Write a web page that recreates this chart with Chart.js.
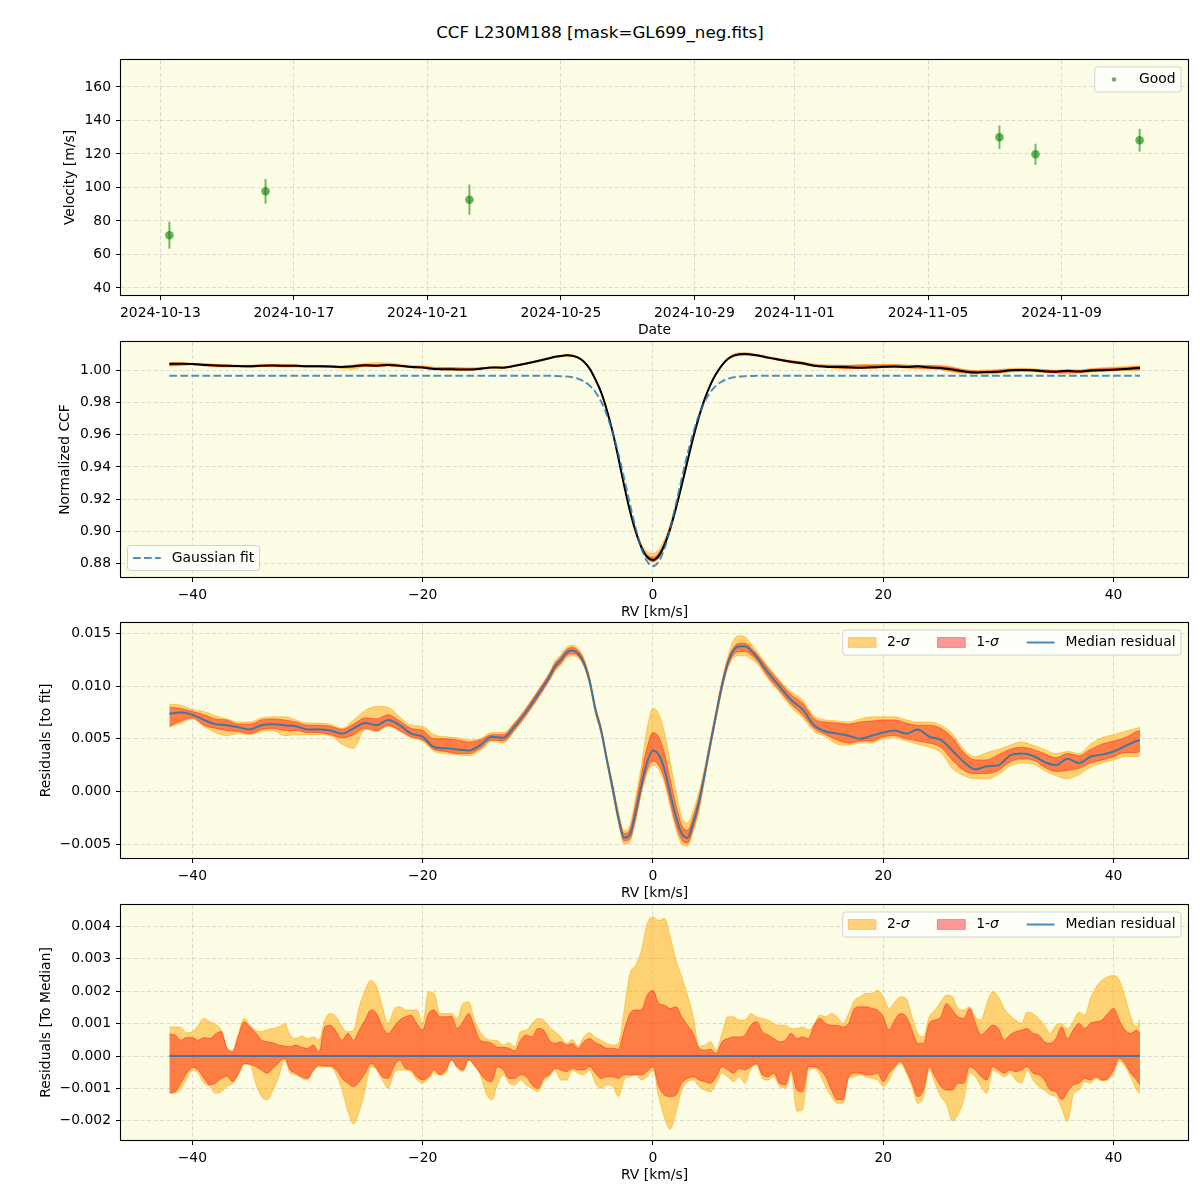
<!DOCTYPE html>
<html><head><meta charset="utf-8">
<script src="https://cdn.jsdelivr.net/npm/chart.js@4.4.1/dist/chart.umd.min.js"></script>
<style>
html,body{margin:0;padding:0;background:#fff;}
#page{position:relative;width:1200px;height:1200px;overflow:hidden;background:#fff;}
canvas{position:absolute;left:0;}
#title{position:absolute;left:0;top:21px;width:1200px;text-align:center;font-family:"DejaVu Sans",sans-serif;font-size:16.7px;line-height:22px;color:#000;}
</style></head><body>
<div id="page">
<div id="title">CCF L230M188 [mask=GL699_neg.fits]</div>
<canvas id="c1" width="1200" height="315" style="top:40px"></canvas>
<canvas id="c2" width="1200" height="315" style="top:322px"></canvas>
<canvas id="c3" width="1200" height="315" style="top:603px"></canvas>
<canvas id="c4" width="1200" height="315" style="top:885px"></canvas>
</div>
<script>
// ---------------- DATA ----------------
// Panel 1: RV time series
const obsDates = ['2024-10-13T06:29','2024-10-16T03:36','2024-10-22T06:14','2024-11-07T03:22','2024-11-08T05:17','2024-11-11T08:10'];
const obsVelocity = [71.5, 97.7, 92.7, 130.0, 119.8, 128.2];
const obsError = [8.0, 7.4, 9.0, 7.0, 6.3, 6.8];
const dateTickLabels = ['2024-10-13','2024-10-17','2024-10-21','2024-10-25','2024-10-29','2024-11-01','2024-11-05','2024-11-09'];
const velTicks = [40, 60, 80, 100, 120, 140, 160];

// Panels 2 & 3: RV grid (km/s)
const rvGrid = [-42,-41,-40,-39,-38,-37,-36,-35,-34,-33,-32,-31,-30,-29,-28,-27,-26,-25,-24,-23,-22,-21,-20,-19,-18,-17,-16,-15,-14,-13,-12,-11,-10,-9,
 -8.5,-8,-7.5,-7,-6.5,-6,-5.5,-5,-4.5,-4,-3.5,-3,-2.5,-2,-1.5,-1,-0.5,0,0.5,1,1.5,2,2.5,3,3.5,4,4.5,5,5.5,6,6.5,7,7.5,8,8.5,
 9,10,11,12,13,14,15,16,17,18,19,20,21,22,23,24,25,26,27,28,29,30,31,32,33,34,35,36,37,38,39,40,41,42,42.3];

const ccfMedian = [1.0039,1.0040,1.0038,1.0033,1.0029,1.0028,1.0026,1.0024,1.0028,1.0029,1.0028,1.0027,1.0024,1.0024,1.0023,1.0020,1.0025,1.0030,1.0028,1.0033,1.0028,1.0020,1.0017,1.0007,1.0006,1.0005,1.0004,1.0009,1.0017,1.0016,1.0027,1.0041,1.0057,1.0074,
 1.0083,1.0088,1.0093,1.0090,1.0078,1.0053,1.0010,0.9943,0.9863,0.9752,0.9616,0.9455,0.9284,0.9128,0.8999,0.8901,0.8841,0.8823,0.8848,0.8916,0.9017,0.9145,0.9288,0.9436,0.9583,0.9712,0.9822,0.9911,0.9979,1.0032,1.0069,1.0090,1.0099,1.0101,1.0098,
 1.0093,1.0078,1.0065,1.0052,1.0043,1.0028,1.0022,1.0020,1.0018,1.0015,1.0018,1.0021,1.0023,1.0020,1.0024,1.0017,1.0014,1.0004,0.9993,0.9986,0.9989,0.9990,0.9999,1.0001,0.9999,0.9993,0.9990,0.9996,0.9992,0.9998,1.0000,1.0003,1.0008,1.0013,1.0014];

const gaussFit = [0.9965,0.9965,0.9965,0.9965,0.9965,0.9965,0.9965,0.9965,0.9965,0.9965,0.9965,0.9965,0.9965,0.9965,0.9965,0.9965,0.9965,0.9965,0.9965,0.9965,0.9965,0.9965,0.9965,0.9965,0.9965,0.9965,0.9965,0.9965,0.9965,0.9965,0.9965,0.9965,0.9965,0.9965,
 0.9964,0.9963,0.9961,0.9956,0.9947,0.9931,0.9905,0.9865,0.9805,0.9722,0.9613,0.9480,0.9328,0.9169,0.9019,0.8895,0.8813,0.8784,0.8813,0.8895,0.9019,0.9169,0.9328,0.9480,0.9613,0.9722,0.9805,0.9865,0.9905,0.9931,0.9947,0.9956,0.9961,0.9963,0.9964,
 0.9965,0.9965,0.9965,0.9965,0.9965,0.9965,0.9965,0.9965,0.9965,0.9965,0.9965,0.9965,0.9965,0.9965,0.9965,0.9965,0.9965,0.9965,0.9965,0.9965,0.9965,0.9965,0.9965,0.9965,0.9965,0.9965,0.9965,0.9965,0.9965,0.9965,0.9965,0.9965,0.9965,0.9965,0.9965];

const residMedian = [0.0074,0.0075,0.0073,0.0068,0.0064,0.0063,0.0061,0.0059,0.0063,0.0064,0.0063,0.0062,0.0059,0.0059,0.0058,0.0055,0.0060,0.0065,0.0063,0.0068,0.0063,0.0055,0.0052,0.0042,0.0041,0.0040,0.0039,0.0044,0.0052,0.0051,0.0062,0.0076,0.0092,0.0109,
 0.0119,0.0125,0.0132,0.0134,0.0131,0.0122,0.0105,0.0078,0.0058,0.0030,0.0003,-0.0025,-0.0044,-0.0041,-0.0020,0.0006,0.0028,0.0039,0.0035,0.0021,-0.0002,-0.0024,-0.0040,-0.0044,-0.0030,-0.0010,0.0017,0.0046,0.0074,0.0101,0.0122,0.0134,0.0138,0.0138,0.0134,
 0.0128,0.0113,0.0100,0.0087,0.0078,0.0063,0.0057,0.0055,0.0053,0.0050,0.0053,0.0056,0.0058,0.0055,0.0059,0.0052,0.0049,0.0039,0.0028,0.0021,0.0024,0.0025,0.0034,0.0036,0.0034,0.0028,0.0025,0.0031,0.0027,0.0033,0.0035,0.0038,0.0043,0.0048,0.0049];
const residHi1 = [0.0080,0.0079,0.0076,0.0073,0.0069,0.0068,0.0064,0.0064,0.0068,0.0069,0.0068,0.0066,0.0063,0.0063,0.0062,0.0059,0.0064,0.0070,0.0069,0.0073,0.0067,0.0060,0.0058,0.0050,0.0050,0.0049,0.0047,0.0049,0.0054,0.0054,0.0065,0.0079,0.0095,0.0112,
 0.0122,0.0128,0.0135,0.0137,0.0134,0.0125,0.0107,0.0080,0.0060,0.0032,0.0006,-0.0022,-0.0040,-0.0036,-0.0012,0.0016,0.0042,0.0056,0.0052,0.0036,0.0011,-0.0013,-0.0032,-0.0037,-0.0024,-0.0005,0.0020,0.0049,0.0077,0.0104,0.0125,0.0137,0.0141,0.0141,0.0137,
 0.0131,0.0117,0.0104,0.0092,0.0084,0.0069,0.0066,0.0065,0.0064,0.0066,0.0067,0.0068,0.0068,0.0065,0.0063,0.0063,0.0060,0.0051,0.0037,0.0030,0.0030,0.0035,0.0040,0.0042,0.0040,0.0036,0.0032,0.0036,0.0034,0.0040,0.0045,0.0048,0.0051,0.0057,0.0058];
const residLo1 = [0.0062,0.0067,0.0070,0.0063,0.0060,0.0058,0.0057,0.0055,0.0059,0.0060,0.0058,0.0058,0.0056,0.0056,0.0054,0.0051,0.0054,0.0060,0.0058,0.0063,0.0058,0.0052,0.0049,0.0040,0.0038,0.0036,0.0036,0.0041,0.0049,0.0048,0.0059,0.0073,0.0089,0.0106,
 0.0116,0.0122,0.0129,0.0131,0.0129,0.0120,0.0103,0.0076,0.0056,0.0028,0.0000,-0.0028,-0.0047,-0.0045,-0.0025,0.0001,0.0021,0.0029,0.0025,0.0012,-0.0010,-0.0032,-0.0046,-0.0049,-0.0035,-0.0015,0.0014,0.0043,0.0071,0.0098,0.0119,0.0130,0.0133,0.0133,0.0130,
 0.0125,0.0109,0.0096,0.0083,0.0073,0.0060,0.0054,0.0049,0.0046,0.0048,0.0048,0.0052,0.0053,0.0050,0.0048,0.0046,0.0042,0.0030,0.0020,0.0017,0.0017,0.0020,0.0028,0.0031,0.0030,0.0023,0.0019,0.0020,0.0022,0.0027,0.0030,0.0033,0.0037,0.0037,0.0038];
const residHi2 = [0.0083,0.0082,0.0078,0.0076,0.0072,0.0069,0.0066,0.0066,0.0070,0.0071,0.0071,0.0068,0.0065,0.0065,0.0064,0.0060,0.0068,0.0077,0.0081,0.0080,0.0071,0.0063,0.0062,0.0054,0.0052,0.0051,0.0049,0.0050,0.0056,0.0056,0.0066,0.0080,0.0096,0.0113,
 0.0124,0.0130,0.0137,0.0139,0.0136,0.0127,0.0109,0.0082,0.0062,0.0034,0.0008,-0.0019,-0.0037,-0.0032,-0.0006,0.0025,0.0060,0.0079,0.0074,0.0056,0.0028,0.0000,-0.0024,-0.0030,-0.0018,0.0000,0.0023,0.0051,0.0079,0.0106,0.0128,0.0144,0.0148,0.0147,0.0141,
 0.0134,0.0119,0.0106,0.0095,0.0087,0.0072,0.0068,0.0067,0.0066,0.0069,0.0071,0.0071,0.0071,0.0068,0.0066,0.0066,0.0063,0.0055,0.0040,0.0033,0.0037,0.0040,0.0044,0.0047,0.0044,0.0040,0.0036,0.0038,0.0036,0.0045,0.0051,0.0054,0.0057,0.0060,0.0061];
const residLo2 = [0.0061,0.0065,0.0069,0.0062,0.0056,0.0053,0.0055,0.0054,0.0057,0.0058,0.0053,0.0054,0.0054,0.0054,0.0053,0.0045,0.0041,0.0059,0.0057,0.0062,0.0057,0.0051,0.0048,0.0038,0.0036,0.0035,0.0034,0.0039,0.0048,0.0046,0.0058,0.0072,0.0088,0.0105,
 0.0114,0.0120,0.0127,0.0129,0.0127,0.0119,0.0101,0.0074,0.0054,0.0026,-0.0002,-0.0030,-0.0050,-0.0048,-0.0028,-0.0002,0.0017,0.0025,0.0021,0.0008,-0.0014,-0.0036,-0.0050,-0.0052,-0.0038,-0.0019,0.0011,0.0041,0.0069,0.0096,0.0117,0.0127,0.0129,0.0129,0.0126,
 0.0122,0.0107,0.0094,0.0080,0.0070,0.0057,0.0052,0.0045,0.0044,0.0046,0.0046,0.0050,0.0051,0.0048,0.0045,0.0042,0.0037,0.0022,0.0015,0.0012,0.0012,0.0016,0.0024,0.0027,0.0026,0.0020,0.0015,0.0012,0.0016,0.0023,0.0027,0.0030,0.0033,0.0033,0.0034];

// Panel 4: residuals relative to the median CCF
const rvFine = [-42,-41.5,-41,-40.5,-40,-39.5,-39,-38.5,-38,-37.5,-37,-36.5,-36,-35.5,-35,-34.5,-34,-33.5,-33,-32.5,-32,-31.5,-31,-30.5,-30,-29.5,-29,-28.5,-28,-27.5,
 -27,-26.5,-26,-25.5,-25,-24.5,-24,-23.5,-23,-22.5,-22,-21.5,-21,-20.5,-20,-19.5,-19,-18.5,-18,-17.5,-17,-16.5,-16,-15.5,-15,-14.5,-14,-13.5,-13,-12.5,
 -12,-11.5,-11,-10.5,-10,-9.5,-9,-8.5,-8,-7.5,-7,-6.5,-6,-5.5,-5,-4.5,-4,-3.5,-3,-2.5,-2,-1.5,-1,-0.5,0,0.5,1,1.5,2,2.5,
 3,3.5,4,4.5,5,5.5,6,6.5,7,7.5,8,8.5,9,9.5,10,10.5,11,11.5,12,12.5,13,13.5,14,14.5,15,15.5,16,16.5,17,17.5,
 18,18.5,19,19.5,20,20.5,21,21.5,22,22.5,23,23.5,24,24.5,25,25.5,26,26.5,27,27.5,28,28.5,29,29.5,30,30.5,31,31.5,32,32.5,
 33,33.5,34,34.5,35,35.5,36,36.5,37,37.5,38,38.5,39,39.5,40,40.5,41,41.5,42,42.3];
const devHi2 = [9.0e-4,9.0e-4,8.8e-4,7.2e-4,7.5e-4,9.5e-4,11.6e-4,10.6e-4,9.8e-4,8.0e-4,
 2.6e-4,1.8e-4,7.0e-4,11.6e-4,9.5e-4,8.0e-4,7.5e-4,8.2e-4,8.5e-4,9.0e-4,
 10.0e-4,6.5e-4,5.4e-4,6.2e-4,5.4e-4,5.9e-4,4.9e-4,11.1e-4,13.1e-4,12.1e-4,
 9.0e-4,7.5e-4,8.0e-4,15.2e-4,20.3e-4,23.4e-4,21.3e-4,15.2e-4,10.0e-4,14.2e-4,
 15.2e-4,14.2e-4,14.2e-4,14.2e-4,10.0e-4,19.8e-4,19.3e-4,13.1e-4,13.1e-4,13.1e-4,
 11.6e-4,16.2e-4,16.7e-4,11.1e-4,7.5e-4,5.4e-4,4.9e-4,4.7e-4,3.4e-4,4.1e-4,
 2.9e-4,7.5e-4,8.0e-4,10.0e-4,11.6e-4,11.1e-4,9.0e-4,7.5e-4,5.9e-4,3.9e-4,
 5.1e-4,3.1e-4,5.9e-4,7.2e-4,5.7e-4,4.9e-4,3.9e-4,3.4e-4,3.9e-4,14.2e-4,
 25.4e-4,28.0e-4,32.6e-4,40.8e-4,42.9e-4,41.8e-4,42.4e-4,36.7e-4,29.5e-4,24.4e-4,
 18.8e-4,12.1e-4,2.9e-4,3.4e-4,4.4e-4,1.8e-4,7.0e-4,12.1e-4,12.1e-4,11.1e-4,
 11.1e-4,13.1e-4,12.1e-4,11.6e-4,11.1e-4,10.0e-4,9.5e-4,9.5e-4,8.5e-4,8.5e-4,
 9.0e-4,8.0e-4,10.0e-4,12.6e-4,12.1e-4,13.1e-4,12.1e-4,10.0e-4,13.1e-4,17.2e-4,
 18.3e-4,19.3e-4,19.3e-4,20.3e-4,18.3e-4,14.7e-4,16.7e-4,18.3e-4,17.7e-4,12.1e-4,
 7.0e-4,5.9e-4,12.1e-4,14.2e-4,16.7e-4,18.8e-4,18.3e-4,14.7e-4,14.2e-4,15.2e-4,
 12.1e-4,11.1e-4,16.2e-4,19.8e-4,18.3e-4,14.7e-4,12.6e-4,11.1e-4,10.0e-4,13.6e-4,
 13.1e-4,11.6e-4,9.5e-4,7.0e-4,9.5e-4,10.0e-4,8.5e-4,10.6e-4,13.6e-4,12.6e-4,
 17.7e-4,21.3e-4,23.4e-4,24.4e-4,24.9e-4,23.4e-4,18.3e-4,12.1e-4,9.0e-4,11.1e-4];
const devHi1 = [6.8e-4,6.5e-4,4.9e-4,5.7e-4,5.7e-4,4.9e-4,5.7e-4,5.4e-4,6.8e-4,7.6e-4,
 2.4e-4,1.3e-4,6.2e-4,10.6e-4,9.0e-4,7.2e-4,4.9e-4,4.4e-4,4.1e-4,3.4e-4,
 3.1e-4,2.9e-4,3.4e-4,2.7e-4,2.4e-4,3.4e-4,1.3e-4,9.0e-4,9.5e-4,7.5e-4,
 4.9e-4,7.0e-4,4.9e-4,8.0e-4,11.1e-4,14.2e-4,13.1e-4,9.0e-4,7.0e-4,9.0e-4,
 11.1e-4,12.1e-4,12.6e-4,10.0e-4,8.0e-4,13.1e-4,14.2e-4,12.1e-4,12.1e-4,12.3e-4,
 8.5e-4,10.6e-4,13.1e-4,9.0e-4,4.9e-4,4.4e-4,3.9e-4,2.7e-4,2.7e-4,2.4e-4,
 1.6e-4,4.9e-4,6.5e-4,5.9e-4,8.5e-4,8.0e-4,4.9e-4,3.9e-4,4.4e-4,3.4e-4,
 3.9e-4,2.4e-4,4.4e-4,5.4e-4,4.1e-4,3.4e-4,2.4e-4,2.4e-4,2.1e-4,8.0e-4,
 13.1e-4,14.2e-4,14.2e-4,18.8e-4,20.3e-4,16.2e-4,15.7e-4,14.7e-4,15.2e-4,12.1e-4,
 9.5e-4,7.0e-4,2.4e-4,1.8e-4,2.1e-4,0.8e-4,4.4e-4,5.4e-4,5.9e-4,5.9e-4,
 6.5e-4,9.5e-4,10.6e-4,7.5e-4,6.5e-4,5.4e-4,4.4e-4,4.9e-4,7.0e-4,5.4e-4,
 5.9e-4,5.4e-4,9.5e-4,11.6e-4,10.1e-4,9.5e-4,9.5e-4,9.0e-4,10.1e-4,14.7e-4,
 15.2e-4,15.2e-4,14.7e-4,14.2e-4,12.1e-4,8.0e-4,11.1e-4,13.1e-4,12.1e-4,8.0e-4,
 3.9e-4,3.9e-4,10.1e-4,11.1e-4,12.1e-4,16.2e-4,14.2e-4,12.1e-4,11.6e-4,14.7e-4,
 10.1e-4,6.5e-4,8.0e-4,9.5e-4,8.5e-4,4.9e-4,6.5e-4,7.5e-4,8.0e-4,8.5e-4,
 7.0e-4,6.5e-4,4.4e-4,3.9e-4,5.4e-4,9.0e-4,5.4e-4,8.0e-4,10.1e-4,8.5e-4,
 10.1e-4,10.6e-4,11.1e-4,13.1e-4,14.7e-4,11.1e-4,8.0e-4,7.0e-4,8.0e-4,7.0e-4];
const devLo1 = [-11.3e-4,-11.0e-4,-8.4e-4,-5.3e-4,-3.5e-4,-4.3e-4,-6.9e-4,-8.9e-4,-8.4e-4,-6.9e-4,
 -6.2e-4,-7.9e-4,-5.3e-4,-2.3e-4,-2.5e-4,-3.3e-4,-4.3e-4,-5.3e-4,-3.8e-4,-2.1e-4,
 -0.7e-4,-4.3e-4,-5.3e-4,-6.4e-4,-6.9e-4,-4.3e-4,-2.8e-4,-3.1e-4,-3.1e-4,-4.3e-4,
 -6.9e-4,-8.4e-4,-9.4e-4,-7.9e-4,-5.3e-4,-2.3e-4,-3.8e-4,-6.4e-4,-6.9e-4,-3.3e-4,
 -1.2e-4,-3.8e-4,-4.3e-4,-6.4e-4,-7.4e-4,-6.4e-4,-4.3e-4,-5.8e-4,-4.3e-4,-1.2e-4,
 -3.3e-4,-4.3e-4,-1.2e-4,-2.8e-4,-5.3e-4,-7.4e-4,-7.9e-4,-3.3e-4,-4.3e-4,-6.9e-4,
 -6.9e-4,-5.8e-4,-6.4e-4,-8.9e-4,-10.0e-4,-6.9e-4,-5.8e-4,-3.8e-4,-4.3e-4,-4.8e-4,
 -3.8e-4,-4.3e-4,-4.3e-4,-3.3e-4,-5.3e-4,-6.9e-4,-6.4e-4,-6.4e-4,-6.9e-4,-5.8e-4,
 -5.8e-4,-5.8e-4,-5.8e-4,-4.8e-4,-3.3e-4,-9.4e-4,-12.0e-4,-12.5e-4,-12.0e-4,-8.4e-4,
 -6.9e-4,-6.4e-4,-7.4e-4,-7.9e-4,-8.4e-4,-6.4e-4,-3.3e-4,-4.3e-4,-5.3e-4,-3.8e-4,
 -4.3e-4,-3.3e-4,-2.3e-4,-5.8e-4,-6.4e-4,-5.3e-4,-8.4e-4,-8.9e-4,-4.3e-4,-10.5e-4,
 -11.0e-4,-3.3e-4,-3.3e-4,-4.3e-4,-6.4e-4,-10.5e-4,-13.5e-4,-13.5e-4,-6.4e-4,-5.3e-4,
 -5.3e-4,-5.8e-4,-5.8e-4,-5.3e-4,-7.9e-4,-5.3e-4,-3.3e-4,-1.7e-4,-4.3e-4,-8.4e-4,
 -12.5e-4,-10.5e-4,-3.3e-4,-6.4e-4,-9.4e-4,-10.5e-4,-10.5e-4,-8.4e-4,-8.4e-4,-3.3e-4,
 -4.3e-4,-6.4e-4,-7.4e-4,-3.3e-4,-4.3e-4,-5.3e-4,-4.3e-4,-4.8e-4,-4.3e-4,-3.3e-4,
 -5.3e-4,-5.8e-4,-7.4e-4,-10.5e-4,-11.0e-4,-13.5e-4,-11.0e-4,-8.9e-4,-8.4e-4,-6.9e-4,
 -7.4e-4,-6.4e-4,-7.4e-4,-6.9e-4,-4.3e-4,-0.7e-4,-2.3e-4,-5.3e-4,-7.4e-4,-8.9e-4];
const devLo2 = [-11.5e-4,-11.5e-4,-10.0e-4,-6.9e-4,-4.3e-4,-5.3e-4,-8.4e-4,-9.4e-4,-11.5e-4,-11.0e-4,
 -9.4e-4,-8.4e-4,-5.8e-4,-2.5e-4,-2.8e-4,-8.4e-4,-12.5e-4,-13.5e-4,-10.5e-4,-6.4e-4,
 -1.2e-4,-5.3e-4,-5.8e-4,-6.9e-4,-7.4e-4,-4.6e-4,-3.3e-4,-3.3e-4,-3.3e-4,-5.8e-4,
 -10.5e-4,-17.0e-4,-20.9e-4,-17.0e-4,-10.5e-4,-3.3e-4,-4.3e-4,-7.4e-4,-10.0e-4,-5.3e-4,
 -4.3e-4,-4.3e-4,-4.8e-4,-7.4e-4,-8.4e-4,-6.9e-4,-5.3e-4,-5.8e-4,-5.3e-4,-1.2e-4,
 -3.8e-4,-4.8e-4,-1.2e-4,-3.1e-4,-5.8e-4,-11.5e-4,-13.5e-4,-8.9e-4,-5.8e-4,-8.4e-4,
 -8.9e-4,-7.4e-4,-8.9e-4,-10.0e-4,-11.0e-4,-7.9e-4,-6.4e-4,-4.3e-4,-7.4e-4,-7.4e-4,
 -4.3e-4,-5.3e-4,-5.8e-4,-4.3e-4,-8.4e-4,-10.0e-4,-8.9e-4,-9.4e-4,-12.5e-4,-7.4e-4,
 -6.4e-4,-5.8e-4,-7.4e-4,-6.4e-4,-4.3e-4,-12.5e-4,-19.0e-4,-22.6e-4,-17.5e-4,-10.5e-4,
 -7.9e-4,-7.4e-4,-9.4e-4,-10.5e-4,-11.0e-4,-8.4e-4,-5.3e-4,-6.4e-4,-7.9e-4,-6.4e-4,
 -8.4e-4,-3.8e-4,-2.8e-4,-6.9e-4,-7.4e-4,-6.4e-4,-9.4e-4,-9.9e-4,-5.3e-4,-17.0e-4,
 -16.5e-4,-4.3e-4,-3.8e-4,-5.8e-4,-9.4e-4,-12.5e-4,-14.6e-4,-14.6e-4,-6.9e-4,-6.4e-4,
 -5.8e-4,-6.4e-4,-6.9e-4,-7.4e-4,-9.4e-4,-7.4e-4,-3.8e-4,-2.3e-4,-5.3e-4,-9.4e-4,
 -14.6e-4,-12.5e-4,-4.3e-4,-8.4e-4,-12.5e-4,-15.0e-4,-20.0e-4,-18.0e-4,-13.5e-4,-5.3e-4,
 -6.4e-4,-9.4e-4,-11.5e-4,-4.3e-4,-5.3e-4,-6.4e-4,-5.3e-4,-7.4e-4,-8.4e-4,-4.3e-4,
 -7.4e-4,-9.4e-4,-10.5e-4,-12.0e-4,-12.5e-4,-16.0e-4,-20.2e-4,-12.0e-4,-10.5e-4,-7.9e-4,
 -8.4e-4,-6.9e-4,-7.6e-4,-7.4e-4,-5.3e-4,-1.7e-4,-3.3e-4,-6.4e-4,-10.5e-4,-11.5e-4];
const devMedian = new Array(rvFine.length).fill(0);

const rvTicks = [-40, -20, 0, 20, 40];
const ccfTicks = [0.88, 0.90, 0.92, 0.94, 0.96, 0.98, 1.00];
const residTicks = [-0.005, 0, 0.005, 0.010, 0.015];
const devTicks = [-0.002, -0.001, 0, 0.001, 0.002, 0.003, 0.004];

// ---------------- sanity ----------------
[ccfMedian, gaussFit, residMedian, residHi1, residLo1, residHi2, residLo2].forEach((a, k) => { if (a.length !== rvGrid.length) throw new Error('grid len ' + k + ' ' + a.length + ' vs ' + rvGrid.length); });
[devHi2, devHi1, devLo1, devLo2].forEach((a, k) => { if (a.length !== rvFine.length) throw new Error('fine len ' + k + ' ' + a.length + ' vs ' + rvFine.length); });

// ---------------- STYLE ----------------
const FONT = '"DejaVu Sans", sans-serif';
const FS = 13.9;
const BG = '#fdfce4';
const GRID = 'rgba(160,160,180,0.45)';
const FILL2 = 'rgba(255,165,0,0.5)';
const FILL1 = 'rgba(255,0,0,0.4)';
const BLUE = 'rgba(31,119,180,0.85)';
const GAUSS = 'rgba(31,119,180,0.8)';
Chart.defaults.font.family = FONT;
Chart.defaults.font.size = FS;
Chart.defaults.color = '#000';

const mplPlugin = {
  id: 'mplFrame',
  beforeDraw(chart) {
    const ca = chart.chartArea, ctx = chart.ctx;
    ctx.save(); ctx.fillStyle = BG; ctx.fillRect(ca.left, ca.top, ca.right - ca.left, ca.bottom - ca.top); ctx.restore();
  },
  afterDraw(chart) {
    const ca = chart.chartArea, ctx = chart.ctx;
    ctx.save();
    ctx.strokeStyle = '#000'; ctx.lineWidth = 1.1; ctx.setLineDash([]);
    ctx.strokeRect(ca.left - 0.5, ca.top - 0.5, ca.right - ca.left + 1, ca.bottom - ca.top + 1);
    ctx.restore();
    const cfg = chart.config.options.plugins.mplLegend;
    if (cfg && cfg.items) drawLegend(chart, cfg);
  }
};
Chart.register(mplPlugin);

function drawLegend(chart, cfg) {
  const ctx = chart.ctx, ca = chart.chartArea;
  const font = FS + 'px ' + FONT, ifont = 'italic ' + FS + 'px ' + FONT;
  const pad = 5.5, hl = 27.8, hp = 11, cs = 27.8, h = 25;
  ctx.save();
  const tw = cfg.items.map(it => it.label.reduce((w, p) => { ctx.font = p.italic ? ifont : font; return w + ctx.measureText(p.text).width; }, 0));
  const W = 2 * pad + tw.reduce((a, b) => a + b, 0) + cfg.items.length * (hl + hp) + (cfg.items.length - 1) * cs;
  let x0, y0;
  if (cfg.corner === 'tr') { x0 = ca.right - 7 - W; y0 = ca.top + 7; }
  else { x0 = ca.left + 6.5; y0 = ca.bottom - 6.5 - h; }
  ctx.beginPath();
  if (ctx.roundRect) ctx.roundRect(x0, y0, W, h, 3); else ctx.rect(x0, y0, W, h);
  ctx.fillStyle = 'rgba(255,255,255,0.8)'; ctx.fill();
  ctx.strokeStyle = 'rgba(204,204,204,0.9)'; ctx.lineWidth = 1; ctx.stroke();
  let x = x0 + pad; const cy = y0 + h / 2;
  cfg.items.forEach((it) => {
    ctx.setLineDash([]);
    if (it.type === 'marker') {
      ctx.beginPath(); ctx.arc(x + hl / 2, cy, 2.3, 0, Math.PI * 2); ctx.fillStyle = it.color; ctx.fill();
    } else if (it.type === 'patch') {
      ctx.fillStyle = it.color; ctx.fillRect(x, cy - 4.9, hl, 9.8);
      ctx.strokeStyle = it.color; ctx.lineWidth = 1; ctx.strokeRect(x, cy - 4.9, hl, 9.8);
    } else {
      ctx.beginPath(); ctx.moveTo(x, cy); ctx.lineTo(x + hl, cy);
      ctx.strokeStyle = it.color; ctx.lineWidth = 2;
      if (it.type === 'dashed') ctx.setLineDash([7.7, 3.3]);
      ctx.stroke(); ctx.setLineDash([]);
    }
    x += hl + hp;
    ctx.fillStyle = '#000'; ctx.textBaseline = 'middle'; ctx.textAlign = 'left';
    it.label.forEach(p => { ctx.font = p.italic ? ifont : font; ctx.fillText(p.text, x, cy); x += ctx.measureText(p.text).width; });
    x += cs;
  });
  ctx.restore();
}

function fmtNum(v, d) {
  const s = Math.abs(v).toFixed(d);
  return (v < 0 && parseFloat(s) !== 0 ? '\u2212' : '') + s;
}
function axis(opts) {
  const isX = opts.isX;
  return {
    type: 'linear', position: isX ? 'bottom' : 'left', min: opts.min, max: opts.max,
    afterBuildTicks: s => { s.ticks = opts.ticks.map(v => ({ value: v })); },
    afterFit: s => { if (isX) s.height = 60; else s.width = 121; },
    ticks: { callback: opts.fmt, padding: 5, autoSkip: false, maxRotation: 0, minRotation: 0, color: '#000', font: { size: FS, family: FONT } },
    grid: { color: GRID, lineWidth: 0.8, drawTicks: true, tickLength: 5, tickColor: '#000', tickWidth: 1, tickBorderDash: [] },
    border: { display: false, dash: [4, 2.5] },
    title: { display: true, text: opts.title, color: '#000', font: { size: FS, family: FONT },
      padding: isX ? { top: 0, bottom: 16.66 } : { top: opts.tpad, bottom: 0 } }
  };
}
const pts = (xs, ys) => xs.map((x, i) => ({ x: x, y: ys[i] }));
function lineDS(xs, ys, color, width, order, extra) {
  return Object.assign({ data: pts(xs, ys), borderColor: color, backgroundColor: color, borderWidth: width,
    pointRadius: 0, fill: false, order: order, cubicInterpolationMode: 'monotone' }, extra || {});
}
function baseOptions(xs, ys, legend) {
  return {
    responsive: false, animation: false, devicePixelRatio: 1, events: [],
    layout: { padding: { top: 20, right: 12, bottom: 0, left: 0 } },
    plugins: { legend: { display: false }, tooltip: { enabled: false }, mplLegend: legend },
    scales: { x: xs, y: ys }
  };
}
const rvAxis = () => axis({ isX: true, min: -46.2, max: 46.47, ticks: rvTicks, fmt: v => fmtNum(v, 0), title: 'RV [km/s]' });

// ---------------- PANEL 1 ----------------
const day0 = Date.parse('2024-10-01T00:00:00Z');
const toDay = s => (Date.parse((s.length === 10 ? s + 'T00:00' : s) + ':00Z') - day0) / 86400000;
const obsDays = obsDates.map(toDay);
const dateTickValues = dateTickLabels.map(toDay);
const p1ds = [{ data: pts(obsDays, obsVelocity), showLine: false, pointRadius: 4.3, pointBackgroundColor: 'rgba(0,128,0,0.6)',
  pointBorderWidth: 0, borderWidth: 0, order: 0 }];
obsDays.forEach((d, i) => {
  p1ds.push({ data: [{ x: d, y: obsVelocity[i] - obsError[i] }, { x: d, y: obsVelocity[i] + obsError[i] }],
    showLine: true, borderColor: 'rgba(0,128,0,0.55)', borderWidth: 2, pointRadius: 0, fill: false, order: 1 });
});
new Chart(document.getElementById('c1'), {
  type: 'line', data: { datasets: p1ds },
  options: baseOptions(
    axis({ isX: true, min: 10.82, max: 42.79, ticks: dateTickValues, fmt: (v, i) => dateTickLabels[i], title: 'Date' }),
    axis({ min: 35.8, max: 176.1, ticks: velTicks, fmt: v => fmtNum(v, 0), title: 'Velocity [m/s]', tpad: 61.7 }),
    { corner: 'tr', items: [{ type: 'marker', color: 'rgba(0,128,0,0.6)', label: [{ text: 'Good' }] }] })
});

// ---------------- PANEL 2 ----------------
const ccfBand = arr => rvGrid.map((_, i) => ccfMedian[i] + arr[i] - residMedian[i]);
new Chart(document.getElementById('c2'), {
  type: 'line',
  data: { datasets: [
    lineDS(rvGrid, gaussFit, GAUSS, 2, 0, { borderDash: [7.7, 3.3] }),
    lineDS(rvGrid, ccfMedian, '#000', 2, 1),
    lineDS(rvGrid, ccfBand(residHi1), FILL1, 1, 2, { fill: 3, backgroundColor: FILL1 }),
    lineDS(rvGrid, ccfBand(residLo1), FILL1, 1, 2),
    lineDS(rvGrid, ccfBand(residHi2), FILL2, 1, 3, { fill: 5, backgroundColor: FILL2 }),
    lineDS(rvGrid, ccfBand(residLo2), FILL2, 1, 3)
  ] },
  options: baseOptions(rvAxis(),
    axis({ min: 0.8717, max: 1.0175, ticks: ccfTicks, fmt: v => fmtNum(v, 2), title: 'Normalized CCF', tpad: 56.7 }),
    { corner: 'bl', items: [{ type: 'dashed', color: GAUSS, label: [{ text: 'Gaussian fit' }] }] })
});

// ---------------- PANEL 3 ----------------
const sigmaLegend = { corner: 'tr', items: [
  { type: 'patch', color: FILL2, label: [{ text: '2-' }, { text: '\u03c3', italic: true }] },
  { type: 'patch', color: FILL1, label: [{ text: '1-' }, { text: '\u03c3', italic: true }] },
  { type: 'line', color: BLUE, label: [{ text: 'Median residual' }] }
] };
new Chart(document.getElementById('c3'), {
  type: 'line',
  data: { datasets: [
    lineDS(rvGrid, residMedian, BLUE, 2, 0),
    lineDS(rvGrid, residHi1, FILL1, 1, 1, { fill: 2, backgroundColor: FILL1 }),
    lineDS(rvGrid, residLo1, FILL1, 1, 1),
    lineDS(rvGrid, residHi2, FILL2, 1, 2, { fill: 4, backgroundColor: FILL2 }),
    lineDS(rvGrid, residLo2, FILL2, 1, 2)
  ] },
  options: baseOptions(rvAxis(),
    axis({ min: -0.00633, max: 0.01602, ticks: residTicks, fmt: v => fmtNum(v, 3), title: 'Residuals [to fit]', tpad: 37.7 }),
    sigmaLegend)
});

// ---------------- PANEL 4 ----------------
new Chart(document.getElementById('c4'), {
  type: 'line',
  data: { datasets: [
    lineDS(rvFine, devMedian, BLUE, 2, 0),
    lineDS(rvFine, devHi1, FILL1, 1, 1, { fill: 2, backgroundColor: FILL1 }),
    lineDS(rvFine, devLo1, FILL1, 1, 1),
    lineDS(rvFine, devHi2, FILL2, 1, 2, { fill: 4, backgroundColor: FILL2 }),
    lineDS(rvFine, devLo2, FILL2, 1, 2)
  ] },
  options: baseOptions(rvAxis(),
    axis({ min: -0.00259, max: 0.00466, ticks: devTicks, fmt: v => fmtNum(v, 3), title: 'Residuals [To Median]', tpad: 37.7 }),
    sigmaLegend)
});
</script>
</body></html>
